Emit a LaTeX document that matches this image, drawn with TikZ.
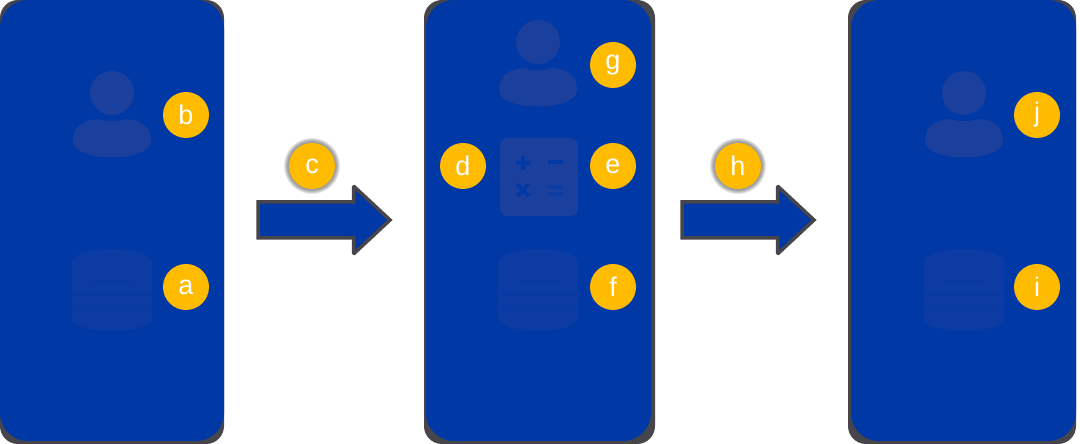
\documentclass[tikz,border=0pt]{standalone}
\usepackage{fontspec}
\setmainfont{Liberation Sans}
\usetikzlibrary{calc}
\definecolor{panelblue}{HTML}{0039A6}
\definecolor{iconblue}{HTML}{1A3F9C}
\definecolor{stackblue}{HTML}{0C3BA3}
\definecolor{badgeamber}{HTML}{FFBB00}
\definecolor{edgegrey}{HTML}{45454B}
\tikzset{
  badge/.style={circle,fill=badgeamber,text=white,minimum size=46pt,inner sep=0pt,
    font=\fontsize{27}{27}\selectfont},
  halo/.style={circle,fill=black,fill opacity=0.1,minimum size=#1,inner sep=0pt},
  panelback/.style={fill=edgegrey,rounded corners=18pt},
  panelfront/.style={fill=panelblue,rounded corners=28pt},
  flow/.style={fill=panelblue,draw=edgegrey,line width=3.5pt,miter limit=2},
  person/.pic={
    \fill[iconblue] (0,18) circle (22);
    \fill[iconblue] (-39,-30) .. controls (-39,-15) and (-28,-9) .. (-14,-8)
      .. controls (-5,-11) and (5,-11) .. (14,-8)
      .. controls (28,-9) and (39,-15) .. (39,-30)
      .. controls (39,-52) and (-39,-52) .. (-39,-30) -- cycle;
  },
  database/.pic={
    \fill[stackblue] (-40,28) .. controls (-40,45) and (40,45) .. (40,28)
      -- (40,-28) .. controls (40,-45) and (-40,-45) .. (-40,-28) -- cycle;
    \fill[panelblue,opacity=0.6] (-22,9) rectangle (22,7.5);
    \foreach \y in {-6,-20}
      \fill[panelblue,opacity=0.4] (-40,\y) rectangle (40,\y+1.5);
  },
}
\begin{document}
\begin{tikzpicture}[x=1pt,y=1pt]
  \useasboundingbox (0,0) rectangle (1080,444);
  \fill[white] (0,0) rectangle (1080,444);
  % panels
  \foreach \xa/\xb/\xc/\xd in {0/224/0/224,424/655/426/651,848/1076/851/1076} {
    \fill[panelback] (\xa,0) rectangle (\xb,444);
    \fill[panelfront] (\xc,3) rectangle (\xd,444);
  }
  % icons
  \pic at (112,333) {person};
  \pic at (538,384) {person};
  \pic at (964,333) {person};
  \pic at (112,154) {database};
  \pic at (538,154) {database};
  \pic at (964,154) {database};
  \fill[iconblue,rounded corners=8pt] (500,228) rectangle (578,306);
  \begin{scope}[panelblue,line width=3.5pt]
    \draw (516,281) -- (530,281) (523,274) -- (523,288);
    \draw (548,282) -- (563,282);
    \draw (517,248) -- (529,260) (517,260) -- (529,248);
    \draw[opacity=0.5] (548,257) -- (563,257) (548,250) -- (563,250);
  \end{scope}
  % arrows
  \foreach \x in {258,682}
    \draw[flow] (\x,242) -- (\x+95.5,242) -- (\x+95.5,258) -- (\x+132,224)
      -- (\x+95.5,190) -- (\x+95.5,206) -- (\x,206) -- cycle;
  % badges
  \foreach \x in {312,738}
    \foreach \d in {47,50,52,54,56}
      \node[halo=\d pt] at (\x,278) {};
  \node[badge] (a) at (186,157) {a};
  \node[badge] (b) at (186,329) {b};
  \node[badge] (c) at (312,278) {c};
  \node[badge] (d) at (463,278) {d};
  \node[badge] (e) at (613,278) {e};
  \node[badge] (f) at (613,157) {f};
  \node[badge] (g) at (613,379) {g};
  \node[badge] (h) at (738,278) {h};
  \node[badge] (i) at (1037,157) {i};
  \node[badge] (j) at (1037,329) {j};
\end{tikzpicture}
\end{document}
